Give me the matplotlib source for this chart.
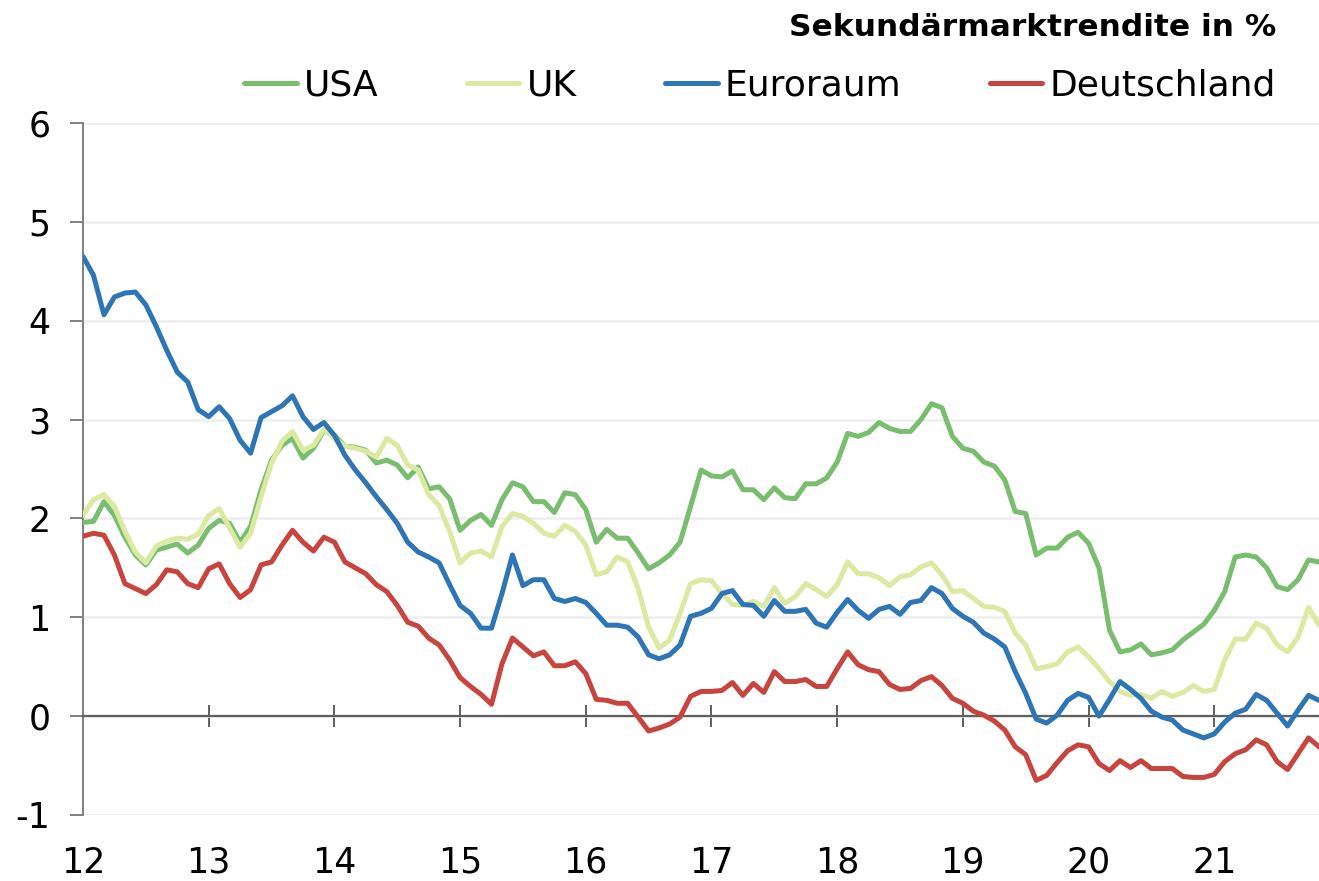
import numpy as np
import matplotlib
matplotlib.use("Agg")
import matplotlib.pyplot as plt

# Monthly secondary-market yields, Jan 2012 - Nov 2021
usa = [1.96, 1.97, 2.17, 2.03, 1.81, 1.63, 1.53, 1.68, 1.71, 1.74,
       1.65, 1.73, 1.90, 1.98, 1.95, 1.76, 1.92, 2.29, 2.59, 2.74,
       2.81, 2.61, 2.71, 2.89, 2.84, 2.73, 2.72, 2.69, 2.56, 2.59,
       2.54, 2.41, 2.52, 2.30, 2.32, 2.20, 1.88, 1.98, 2.04, 1.93,
       2.19, 2.36, 2.32, 2.17, 2.17, 2.06, 2.26, 2.24, 2.09, 1.76,
       1.89, 1.80, 1.80, 1.65, 1.49, 1.55, 1.63, 1.76, 2.12, 2.49,
       2.43, 2.42, 2.48, 2.29, 2.29, 2.19, 2.31, 2.21, 2.20, 2.35,
       2.35, 2.41, 2.57, 2.86, 2.83, 2.87, 2.97, 2.91, 2.88, 2.88,
       3.00, 3.16, 3.12, 2.83, 2.71, 2.68, 2.57, 2.53, 2.39, 2.07,
       2.05, 1.63, 1.70, 1.70, 1.81, 1.86, 1.75, 1.50, 0.87, 0.65,
       0.67, 0.73, 0.62, 0.64, 0.67, 0.77, 0.85, 0.93, 1.07, 1.26,
       1.61, 1.63, 1.61, 1.50, 1.31, 1.28, 1.38, 1.58, 1.56]

uk = [2.03, 2.19, 2.24, 2.12, 1.87, 1.66, 1.55, 1.72, 1.77, 1.80,
      1.79, 1.84, 2.03, 2.10, 1.90, 1.71, 1.85, 2.22, 2.56, 2.78,
      2.88, 2.69, 2.74, 2.90, 2.81, 2.73, 2.71, 2.68, 2.62, 2.81,
      2.74, 2.54, 2.49, 2.24, 2.13, 1.87, 1.55, 1.65, 1.67, 1.61,
      1.92, 2.05, 2.02, 1.95, 1.85, 1.82, 1.93, 1.87, 1.73, 1.43,
      1.46, 1.61, 1.56, 1.29, 0.90, 0.69, 0.77, 1.04, 1.34, 1.38,
      1.37, 1.24, 1.13, 1.12, 1.16, 1.11, 1.30, 1.14, 1.21, 1.34,
      1.28, 1.21, 1.33, 1.56, 1.44, 1.44, 1.40, 1.32, 1.41, 1.43,
      1.51, 1.55, 1.43, 1.26, 1.27, 1.19, 1.11, 1.10, 1.06, 0.84,
      0.72, 0.48, 0.50, 0.53, 0.65, 0.70, 0.60, 0.48, 0.35, 0.25,
      0.21, 0.22, 0.18, 0.25, 0.20, 0.24, 0.31, 0.25, 0.27, 0.57,
      0.78, 0.78, 0.94, 0.89, 0.72, 0.65, 0.80, 1.10, 0.92]

euroraum = [4.65, 4.46, 4.06, 4.24, 4.28, 4.29, 4.16, 3.94, 3.70, 3.48,
            3.38, 3.10, 3.03, 3.13, 3.01, 2.79, 2.66, 3.02, 3.08, 3.14,
            3.24, 3.03, 2.90, 2.97, 2.84, 2.64, 2.49, 2.36, 2.22, 2.09,
            1.95, 1.76, 1.66, 1.61, 1.55, 1.33, 1.12, 1.04, 0.89, 0.89,
            1.24, 1.63, 1.32, 1.38, 1.38, 1.19, 1.16, 1.19, 1.15, 1.04,
            0.92, 0.92, 0.90, 0.80, 0.62, 0.58, 0.62, 0.72, 1.01, 1.04,
            1.09, 1.24, 1.27, 1.13, 1.12, 1.01, 1.17, 1.06, 1.06, 1.08,
            0.94, 0.90, 1.05, 1.18, 1.07, 0.99, 1.08, 1.11, 1.03, 1.15,
            1.17, 1.30, 1.24, 1.09, 1.01, 0.95, 0.84, 0.78, 0.70, 0.45,
            0.23, -0.03, -0.07, 0.01, 0.16, 0.23, 0.19, 0.00, 0.17, 0.35,
            0.27, 0.18, 0.05, -0.01, -0.04, -0.14, -0.18, -0.22, -0.18, -0.06,
            0.03, 0.07, 0.22, 0.16, 0.03, -0.10, 0.06, 0.21, 0.16]

deutschland = [1.82, 1.85, 1.83, 1.63, 1.34, 1.29, 1.24, 1.33, 1.48, 1.46,
               1.34, 1.30, 1.49, 1.54, 1.34, 1.20, 1.28, 1.53, 1.56, 1.73,
               1.88, 1.76, 1.67, 1.81, 1.76, 1.56, 1.50, 1.44, 1.33, 1.26,
               1.12, 0.95, 0.91, 0.79, 0.72, 0.57, 0.39, 0.30, 0.22, 0.12,
               0.53, 0.79, 0.70, 0.61, 0.65, 0.51, 0.51, 0.55, 0.43, 0.17,
               0.16, 0.13, 0.13, -0.01, -0.15, -0.12, -0.08, -0.01, 0.20, 0.25,
               0.25, 0.26, 0.34, 0.21, 0.33, 0.24, 0.45, 0.35, 0.35, 0.37,
               0.30, 0.30, 0.48, 0.65, 0.52, 0.47, 0.45, 0.32, 0.27, 0.28,
               0.36, 0.40, 0.31, 0.18, 0.13, 0.05, 0.01, -0.05, -0.14, -0.31,
               -0.39, -0.65, -0.60, -0.47, -0.35, -0.29, -0.31, -0.48, -0.55, -0.45,
               -0.52, -0.45, -0.53, -0.53, -0.53, -0.61, -0.62, -0.62, -0.59, -0.46,
               -0.38, -0.34, -0.24, -0.29, -0.46, -0.54, -0.38, -0.22, -0.31]

years = [12, 13, 14, 15, 16, 17, 18, 19, 20, 21]
year_labels = ["12", "13", "14", "15", "16", "17", "18", "19", "20", "21"]
yticks = [-1, 0, 1, 2, 3, 4, 5, 6]

series = [("USA", usa, "#78be6e"),
          ("UK", uk, "#dbe9a1"),
          ("Euroraum", euroraum, "#2e75b6"),
          ("Deutschland", deutschland, "#c8453f")]

plt.rcParams["font.family"] = ["DejaVu Sans"]
plt.rcParams["axes.unicode_minus"] = False

x = years[0] + np.arange(len(usa)) / 12.0

fig = plt.figure(figsize=(13.19, 8.81), dpi=100)
ax = fig.add_axes([83 / 1319, 66 / 881, 1 - 83 / 1319, (815 - 123) / 881])

for name, vals, col in series:
    ax.plot(x, vals, color=col, lw=3.6, label=name, zorder=3,
            solid_joinstyle="round", solid_capstyle="round")

ax.set_xlim(x[0], x[-1])
ax.set_ylim(-1, 6)
ax.set_yticks(yticks)
ax.yaxis.grid(True, color="#eeeeee", lw=1.8)
ax.set_axisbelow(True)

for s in ["top", "right"]:
    ax.spines[s].set_visible(False)
ax.spines["left"].set_color("#808080")
ax.spines["left"].set_linewidth(1.4)
ax.spines["bottom"].set_position(("data", 0))
ax.spines["bottom"].set_color("#606060")
ax.spines["bottom"].set_linewidth(1.6)

ax.tick_params(axis="y", direction="out", length=9.4, width=1.4,
               color="#808080", labelsize=25, pad=14)
ax.set_xticks(years)
ax.tick_params(axis="x", direction="inout", length=16, width=1.4,
               color="#606060", labelbottom=False)

sec = ax.secondary_xaxis(0)
sec.set_xticks(years, year_labels)
sec.tick_params(length=0, labelsize=25, pad=22)
sec.spines["bottom"].set_visible(False)

ax.legend(loc="center right", bbox_to_anchor=(1276 / 1319, 1 - 86 / 881),
          bbox_transform=fig.transFigure, ncol=4, frameon=False,
          fontsize=26, handlelength=1.45, handletextpad=0.2,
          columnspacing=2.45, borderpad=0, borderaxespad=0)

fig.text(1276 / 1319, 1 - 28 / 881, "Sekundärmarktrendite in %",
         ha="right", va="center", fontsize=22.5, fontweight="bold")

fig.savefig("out.png", dpi=100)
